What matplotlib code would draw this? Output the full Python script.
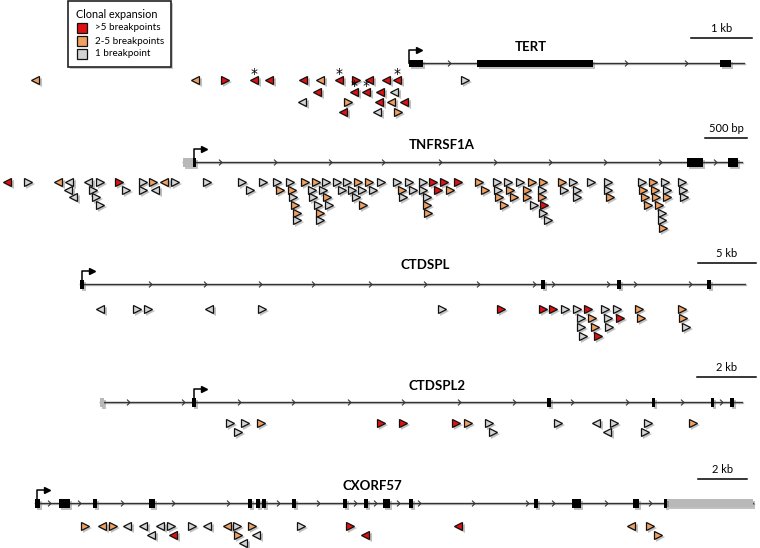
import matplotlib
matplotlib.use("Agg")
import matplotlib.pyplot as plt
import matplotlib.patheffects as pe
from matplotlib.patches import Rectangle
from matplotlib.path import Path

plt.rcParams['font.family'] = ['Lato', 'DejaVu Sans']

# colour classes: r = >5 breakpoints, o = 2-5, g = 1
colors = {'r': '#e01010', 'o': '#f0a060', 'g': '#d4d4d4'}

# ---- TERT ----
tert_line = (409, 744, 63)
tert_exons = [(409, 423), (477, 593), (720, 731)]
tert_chevrons = [449, 626, 686]
tert_rows = [80, 92, 102, 112]
tert_tri = [(35, 0, '<o'), (195, 0, '<o'), (225, 0, '>r'), (254, 0, '<r'), (269, 0, '<r'),
            (303, 0, '<r'), (320, 0, '<o'), (339, 0, '<r'), (356, 0, '>r'), (369, 0, '<r'),
            (386, 0, '<r'), (397, 0, '<r'), (465, 0, '>g'),
            (317, 1, '<r'), (354, 1, '<r'), (366, 1, '<r'), (380, 1, '<r'), (394, 1, '<g'),
            (302, 2, '<g'), (348, 2, '>o'), (379, 2, '<r'), (391, 2, '<o'), (404, 2, '<r'),
            (343, 3, '<r'), (377, 3, '<g'), (398, 3, '>o')]
tert_stars = [(254, 0), (339, 0), (397, 0), (354, 1), (366, 1)]

# ---- TNFRSF1A ----
tnf_line = (183, 742, 162)
tnf_utr = [(183, 193)]
tnf_exons = [(193, 196), (687, 703), (728, 738)]
tnf_chevrons = [220, 275, 330, 383, 440, 495, 550, 605, 660, 715]
tnf_rows = [182, 190, 197, 205, 213, 220, 228]
tnf_tri = [(7, 0, '<r'), (28, 0, '>g'), (58, 0, '<o'), (69, 0, '<g'), (88, 0, '<g'), (100, 0, '>g'),
           (119, 0, '>r'), (143, 0, '>g'), (153, 0, '>o'), (164, 0, '<o'), (175, 0, '>g'),
           (207, 0, '>g'), (242, 0, '>g'), (263, 0, '>g'), (277, 0, '>g'), (290, 0, '>g'),
           (305, 0, '>o'), (316, 0, '>o'), (326, 0, '>g'), (337, 0, '>g'), (347, 0, '>g'),
           (358, 0, '>o'), (369, 0, '>o'), (381, 0, '>g'), (397, 0, '>g'), (409, 0, '>g'),
           (423, 0, '>g'), (433, 0, '>r'), (444, 0, '>r'), (458, 0, '>r'), (479, 0, '>o'),
           (497, 0, '>g'), (508, 0, '>g'), (520, 0, '>g'), (532, 0, '>o'), (543, 0, '>o'),
           (562, 0, '>o'), (573, 0, '>g'), (591, 0, '>g'), (608, 0, '>g'), (642, 0, '>g'),
           (653, 0, '>o'), (665, 0, '>g'), (682, 0, '>g'),
           (68, 1, '<g'), (93, 1, '>g'), (126, 1, '>g'), (143, 1, '>g'), (155, 1, '<g'),
           (250, 1, '>g'), (280, 1, '>o'), (292, 1, '>o'), (312, 1, '>g'), (323, 1, '>g'),
           (342, 1, '>g'), (352, 1, '>g'), (362, 1, '>g'), (373, 1, '>g'), (402, 1, '>o'),
           (413, 1, '>g'), (423, 1, '>g'), (438, 1, '>r'), (450, 1, '>o'), (485, 1, '>o'),
           (498, 1, '>g'), (510, 1, '>o'), (527, 1, '>o'), (542, 1, '>g'), (564, 1, '>g'),
           (577, 1, '>g'), (608, 1, '>g'), (643, 1, '>o'), (655, 1, '>o'), (667, 1, '>g'),
           (683, 1, '>g'),
           (73, 2, '<g'), (96, 2, '>g'), (293, 2, '>g'), (313, 2, '>g'), (327, 2, '>o'),
           (356, 2, '>g'), (403, 2, '>g'), (427, 2, '>g'), (499, 2, '>o'), (514, 2, '>o'),
           (527, 2, '>o'), (542, 2, '>o'), (577, 2, '>g'), (610, 2, '>o'), (645, 2, '>o'),
           (656, 2, '>o'), (667, 2, '>o'), (684, 2, '>g'),
           (100, 3, '>g'), (295, 3, '>o'), (318, 3, '>g'), (329, 3, '>g'), (363, 3, '>o'),
           (427, 3, '>o'), (504, 3, '>o'), (534, 3, '>g'), (544, 3, '>r'), (648, 3, '>o'),
           (659, 3, '>o'),
           (297, 4, '>o'), (320, 4, '>o'), (428, 4, '>o'), (543, 4, '>g'), (662, 4, '>g'),
           (297, 5, '>g'), (320, 5, '>g'), (548, 5, '>g'), (662, 5, '>g'),
           (663, 6, '>o')]

# ---- CTDSPL ----
ctd_line = (80, 745, 284)
ctd_exons = [(80, 84), (541, 545), (617, 621), (707, 711)]
ctd_chevrons = [150, 205, 260, 313, 370, 425, 478, 534, 553, 608, 635, 690]
ctd_rows = [309, 318, 327, 336]
ctd_tri = [(100, 0, '<g'), (137, 0, '>g'), (148, 0, '>g'), (209, 0, '<g'), (262, 0, '>g'),
           (442, 0, '>g'), (501, 0, '>r'), (543, 0, '>r'), (553, 0, '>r'), (565, 0, '>g'),
           (577, 0, '>g'), (588, 0, '>r'), (605, 0, '>g'), (617, 0, '>g'), (639, 0, '>o'),
           (682, 0, '>o'),
           (581, 1, '>g'), (592, 1, '>o'), (608, 1, '>g'), (620, 1, '>r'), (641, 1, '>o'),
           (683, 1, '>o'),
           (581, 2, '>g'), (595, 2, '>o'), (609, 2, '>g'), (686, 2, '>g'),
           (583, 3, '>g'), (598, 3, '>r')]

# ---- CTDSPL2 ----
ctd2_line = (100, 742, 402)
ctd2_utr = [(100, 104)]
ctd2_exons = [(192, 196), (547, 551), (652, 655), (711, 714), (730, 734)]
ctd2_chevrons = [128, 183, 239, 293, 349, 403, 459, 514, 572, 627, 682, 721]
ctd2_rows = [423, 432]
ctd2_tri = [(230, 0, '>g'), (245, 0, '>g'), (261, 0, '>o'), (381, 0, '>r'), (403, 0, '>r'),
            (456, 0, '>r'), (468, 0, '>o'), (489, 0, '>g'), (558, 0, '>g'), (596, 0, '<g'),
            (614, 0, '>g'), (648, 0, '>g'), (693, 0, '>o'),
            (238, 1, '>g'), (493, 1, '>g'), (607, 1, '<g'), (645, 1, '>g')]

# ---- CXORF57 ----
cx_line = (35, 753, 503)
cx_utr = [(667, 753)]
cx_exons = [(35, 40), (59, 70), (93, 97), (149, 155), (248, 252), (256, 260), (262, 266),
            (292, 296), (343, 347), (364, 368), (383, 390), (409, 413), (534, 538),
            (572, 581), (633, 639), (664, 667)]
cx_chevrons = [49, 79, 122, 173, 228, 278, 318, 355, 375, 398, 419, 473, 527, 553, 606, 650]
cx_rows = [526, 535, 543]
cx_tri = [(85, 0, '>o'), (102, 0, '<o'), (113, 0, '>o'), (127, 0, '<g'), (143, 0, '<g'),
          (160, 0, '<g'), (171, 0, '>g'), (192, 0, '>g'), (207, 0, '<g'), (227, 0, '<o'),
          (237, 0, '>g'), (252, 0, '>o'), (301, 0, '>g'), (350, 0, '>r'), (458, 0, '<r'),
          (631, 0, '<o'), (650, 0, '>o'),
          (151, 1, '<g'), (173, 1, '<r'), (238, 1, '>o'), (256, 1, '<g'), (365, 1, '<r'),
          (658, 1, '>o'),
          (243, 2, '<g')]

genes = [
    ('TERT', tert_line, [], tert_exons, tert_chevrons, tert_rows, tert_tri, 409, 531, 53),
    ('TNFRSF1A', tnf_line, tnf_utr, tnf_exons, tnf_chevrons, tnf_rows, tnf_tri, 194, 442, 151),
    ('CTDSPL', ctd_line, [], ctd_exons, ctd_chevrons, ctd_rows, ctd_tri, 82, 425, 271),
    ('CTDSPL2', ctd2_line, ctd2_utr, ctd2_exons, ctd2_chevrons, ctd2_rows, ctd2_tri, 194, 437, 392),
    ('CXORF57', cx_line, cx_utr, cx_exons, cx_chevrons, cx_rows, cx_tri, 37, 372, 492),
]

scale_bars = [('1 kb', 691, 752, 38), ('500 bp', 705, 747, 138), ('5 kb', 698, 756, 263),
              ('2 kb', 697, 756, 377), ('2 kb', 698, 747, 479)]

fig = plt.figure(figsize=(7.6, 5.48), dpi=100)
ax = fig.add_axes([0, 0, 1, 1])
ax.set_xlim(0, 760)
ax.set_ylim(548, 0)
ax.axis('off')

shadow = [pe.SimplePatchShadow(offset=(1.5, -1.5), shadow_rgbFace='0.3', alpha=0.35), pe.Normal()]
chev = Path([(-0.5, 1), (0.5, 0), (-0.5, -1)], [Path.MOVETO, Path.LINETO, Path.LINETO])

for name, (x0, x1, yl), utr, exons, chevs, rows, tris, tss, lx, ly in genes:
    ax.plot([x0, x1], [yl, yl], color='#333333', lw=1.0, zorder=2,
            path_effects=[pe.SimpleLineShadow(offset=(1, -1), alpha=0.25), pe.Normal()])
    ax.plot(chevs, [yl] * len(chevs), ls='none', marker=chev, ms=4.2, mfc='none',
            mec='#333333', mew=0.8, zorder=3)
    for a, b in utr:
        h = 8 if name == 'CXORF57' else 9
        ax.add_patch(Rectangle((a, yl - h / 2), b - a, h, fc='#b8b8b8', ec='none', zorder=3,
                               path_effects=shadow))
    for a, b in exons:
        h = 7 if name == 'TERT' else 9
        ax.add_patch(Rectangle((a, yl - h / 2), b - a, h, fc='black', ec='none', zorder=4,
                               path_effects=shadow))
    # transcription start arrow
    ax.plot([tss, tss, tss + 10], [yl, yl - 13, yl - 13], color='black', lw=1.1, zorder=4)
    ax.plot([tss + 10], [yl - 13], marker='>', ms=5, color='black', zorder=4)
    ax.text(lx, ly, name, ha='center', va='bottom', fontsize=9.5, fontweight='bold')
    for x, r, code in tris:
        ax.plot([x], [rows[r]], ls='none', marker=code[0], ms=6.4, mfc=colors[code[1]],
                mec='#111111', mew=0.9, zorder=5, path_effects=shadow)

for x, r in tert_stars:
    ax.text(x, tert_rows[r] + 1, '*', ha='center', va='bottom', fontsize=10,
            fontfamily='DejaVu Sans', zorder=6)

for label, a, b, y in scale_bars:
    ax.plot([a, b], [y, y], color='black', lw=1.1)
    ax.text((a + b) / 2, y - 4, label, ha='center', va='bottom', fontsize=8)

# legend
ax.add_patch(Rectangle((68, 1), 103, 66, fc='white', ec='#222222', lw=1.2, zorder=6,
                       path_effects=[pe.SimplePatchShadow(offset=(1.5, -1.5), alpha=0.3), pe.Normal()]))
ax.text(117, 14, 'Clonal expansion', ha='center', va='center', fontsize=7.8, zorder=7)
for i, (c, lab) in enumerate([('r', '>5 breakpoints'), ('o', '2-5 breakpoints'),
                              ('g', '1 breakpoint')]):
    y = 28 + 13 * i
    ax.plot([82], [y], marker='s', ms=7, mfc=colors[c], mec='#111111', mew=0.9, zorder=7)
    ax.text(95, y, lab, ha='left', va='center', fontsize=7.1, zorder=7)

fig.savefig('out.png', dpi=100)
